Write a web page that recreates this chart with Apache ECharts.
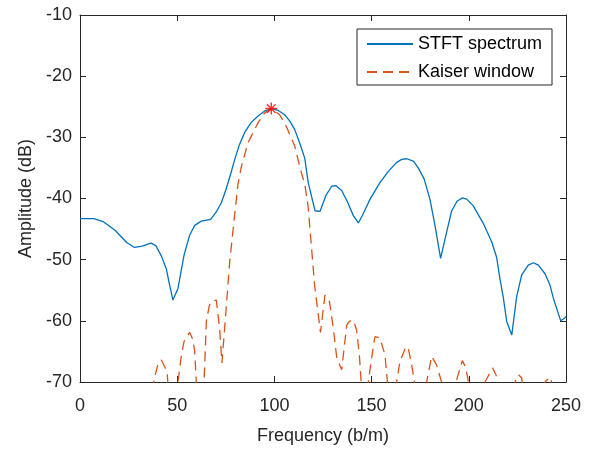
<!DOCTYPE html>
<html>
<head>
<meta charset="utf-8">
<script src="https://cdn.jsdelivr.net/npm/echarts@6/dist/echarts.min.js"></script>
<style>
  html, body { margin: 0; padding: 0; background: #fff; }
  #chart { width: 596px; height: 450px; }
</style>
</head>
<body>
<div id="chart"></div>
<script>
// values
const stftFreq = [0, 7, 12, 18, 24, 28, 32, 36.5, 39, 42, 44.4, 46, 47.8, 50.4, 53.5, 56.4, 59, 62.4, 67.2, 70.1,
  72.7, 75, 77.5, 79.6, 82, 84.7, 88, 91.6, 95, 98.4, 102, 105.3, 108, 110.4, 113.2, 115.6, 117.4, 120.9, 123.5,
  126.5, 129.5, 131.7, 134.6, 137.5, 140.6, 143.2, 145.7, 149.2, 154.3, 158.5, 162.9, 165.5, 168, 171.5, 174, 177,
  180, 182.6, 185.5, 188.6, 191.2, 194.1, 196.8, 198.9, 202.3, 207.5, 211.8, 214.3, 216, 217.8, 219.5, 222.1,
  224.6, 227.2, 230.6, 233.2, 235.8, 239.2, 241.8, 243.5, 247.3, 249.5, 250];
const stftDb = [-43.3, -43.3, -43.8, -45.2, -47.2, -48.0, -47.8, -47.3, -47.7, -49.5, -51.5, -54, -56.6, -54.7, -49.3,
  -46.0, -44.4, -43.7, -43.4, -42.2, -40.7, -38.6, -36.0, -33.6, -31.2, -29.2, -27.6, -26.5, -25.7, -25.3, -25.6,
  -26.3, -27.4, -28.7, -31.1, -33.4, -37.4, -42.0, -42.1, -39.5, -38.0, -37.9, -38.7, -40.5, -42.8, -44.0, -42.5,
  -40.1, -37.4, -35.6, -34.1, -33.6, -33.5, -33.9, -35.0, -36.8, -40.1, -44.4, -49.8, -45.5, -42.0, -40.4, -39.9,
  -40.1, -41.2, -44.1, -47.1, -49.6, -53.1, -56.3, -60.1, -62.3, -56.1, -52.5, -50.9, -50.5, -50.9, -52.3, -54.2,
  -56.3, -60.0, -59.5, -59.3];

const kaiserFreq = [36, 38, 40, 41.8, 44, 44.9, 46, 49.5, 50.4, 52, 53.5, 56.4, 58, 59, 59.8, 61, 63, 63.8, 65, 66.5,
  67.6, 70.1, 71.8, 73, 74.4, 77, 79.6, 81.3, 83, 86.4, 91.6, 95, 98.4, 102.7, 106.1, 110.4, 113.8, 115.6, 117.3,
  119, 120.7, 123.7, 126, 126.9, 128.2, 130.3, 132.1, 134.6, 137.2, 138.5, 140.6, 142.3, 143.7, 144.6, 145.5, 147.5,
  148.3, 150, 151.7, 154.3, 156.9, 158.1, 159, 162, 162.9, 164.6, 167.7, 168.9, 170.6, 172, 173, 177.5, 178.3, 180.9,
  183.4, 186, 187, 192.5, 193.4, 196.7, 198.4, 199.8, 201, 207.5, 208.3, 212.3, 214.3, 215, 223, 223.8, 225.5,
  227.2, 228, 238.5, 239.2, 241.8, 242.6, 243.5];
const kaiserDb = [-74, -69.8, -67.2, -66.4, -67.8, -68.8, -74, -74, -70, -66, -63.4, -61.9, -63, -65.0, -69.9, -78,
  -78, -70, -60.1, -57.5, -56.8, -56.6, -61.2, -66.9, -61.2, -50.4, -42.5, -37.6, -34.8, -30.9, -27.6, -26.0, -25.3,
  -26.3, -28.2, -31.4, -35.7, -37.6, -41.2, -47.7, -54.2, -61.9, -55.8, -55.5, -56.6, -61.2, -66.1, -68.0, -60.7,
  -60.1, -59.9, -61.5, -65.6, -69.9, -76, -76, -70, -66.1, -62.6, -62.8, -65.6, -69.9, -76, -76, -70, -66.6, -64.2,
  -64.5, -67.2, -69.9, -76, -76, -70, -65.8, -67.2, -70, -76, -76, -70, -66.5, -67.6, -70, -76, -76, -70, -67.7,
  -69.1, -72, -72, -70, -68.8, -69.3, -72, -72, -70, -69.2, -70, -72];

const peakPoint = [98.4, -25.3];

const xTicks = [0, 250, 50];
const yTicks = [-70, -10, 10];

const FONT = "'Liberation Sans', Arial, sans-serif";
const INK = '#262626';

function zip(a, b) {
  return a.map((v, i) => [v, b[i]]);
}

// asterisk made of four thin bars
const asterisk = 'path://M0,4.4H10V5.6H0Z M4.4,0H5.6V10H4.4Z M1,1.8L1.8,1L9,8.2L8.2,9Z M8.2,1L9,1.8L1.8,9L1,8.2Z';

function axisCommon(show) {
  return {
    type: 'value',
    axisLine: { show: true, onZero: false, lineStyle: { color: INK, width: 1 } },
    axisTick: { show: true, inside: true, length: 6, lineStyle: { color: INK, width: 1 } },
    axisLabel: { show: show, color: INK, fontSize: 18, fontFamily: FONT },
    splitLine: { show: false }
  };
}

const chart = echarts.init(document.getElementById('chart'), null, { renderer: 'canvas' });

chart.setOption({
  animation: false,
  backgroundColor: '#fff',
  grid: { left: 80, right: 30, top: 15, bottom: 66, containLabel: false },
  legend: {
    data: ['STFT spectrum', 'Kaiser window'],
    orient: 'vertical',
    left: 357,
    top: 29,
    padding: [6, 10, 4, 9],
    itemWidth: 46,
    itemHeight: 14,
    itemGap: 10,
    itemStyle: { opacity: 0 },
    borderColor: INK,
    borderWidth: 1,
    borderRadius: 0,
    backgroundColor: '#fff',
    textStyle: { color: '#000', fontSize: 18, fontFamily: FONT }
  },
  xAxis: [
    Object.assign(axisCommon(true), {
      position: 'bottom', min: xTicks[0], max: xTicks[1], interval: xTicks[2],
      name: 'Frequency (b/m)', nameLocation: 'middle', nameGap: 45,
      nameTextStyle: { color: INK, fontSize: 18, fontFamily: FONT },
      axisLabel: { color: INK, fontSize: 18, fontFamily: FONT, margin: 15 }
    }),
    Object.assign(axisCommon(false), {
      position: 'top', min: xTicks[0], max: xTicks[1], interval: xTicks[2]
    })
  ],
  yAxis: [
    Object.assign(axisCommon(true), {
      position: 'left', min: yTicks[0], max: yTicks[1], interval: yTicks[2],
      name: 'Amplitude (dB)', nameLocation: 'middle', nameGap: 45,
      nameTextStyle: { color: INK, fontSize: 18, fontFamily: FONT },
      axisLabel: { color: INK, fontSize: 18, fontFamily: FONT, margin: 8 }
    }),
    Object.assign(axisCommon(false), {
      position: 'right', min: yTicks[0], max: yTicks[1], interval: yTicks[2]
    })
  ],
  series: [
    {
      name: 'STFT spectrum',
      type: 'line',
      xAxisIndex: 0, yAxisIndex: 0,
      data: zip(stftFreq, stftDb),
      symbol: 'none',
      clip: true,
      lineStyle: { color: '#0072BD', width: 1.3 },
      itemStyle: { color: '#0072BD' }
    },
    {
      name: 'Kaiser window',
      type: 'line',
      xAxisIndex: 0, yAxisIndex: 0,
      data: zip(kaiserFreq, kaiserDb),
      symbol: 'none',
      clip: true,
      lineStyle: { color: '#D95319', width: 1.3, type: [10, 6] },
      itemStyle: { color: '#D95319' }
    },
    {
      name: 'peak',
      type: 'scatter',
      xAxisIndex: 0, yAxisIndex: 0,
      data: [peakPoint],
      symbol: asterisk,
      symbolSize: 12,
      itemStyle: { color: '#FF0000' },
      z: 5
    }
  ]
});
</script>
</body>
</html>
